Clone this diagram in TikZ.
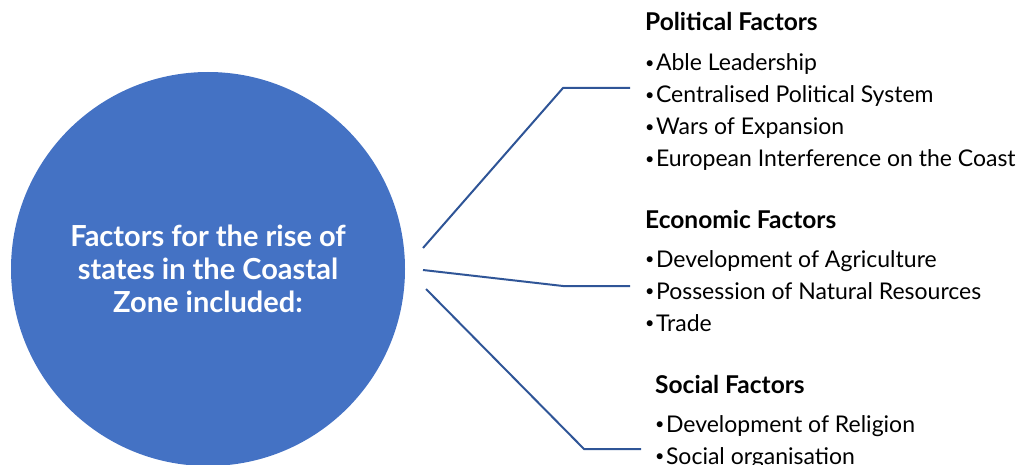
\documentclass[tikz,border=0pt]{standalone}
\usepackage{fontspec}
\setmainfont{Lato}
\definecolor{hubblue}{RGB}{68,114,196}
\definecolor{linkblue}{RGB}{47,85,151}
\newcommand{\dotmark}{\raisebox{2.2pt}{\scalebox{0.7}{\textbullet}}\hspace{1.5pt}}
\begin{document}
\begin{tikzpicture}[x=1pt,y=-1pt,
    hub/.style={circle, fill=hubblue, minimum size=394pt, inner sep=0pt,
        text=white, align=center, font=\bfseries\fontsize{29}{33}\selectfont},
    head/.style={anchor=base west, inner sep=0pt, font=\bfseries\fontsize{24.5}{28}\selectfont},
    item/.style={anchor=base west, inner sep=0pt, font=\fontsize{23}{28}\selectfont},
    link/.style={draw=linkblue, line width=2pt}]
    \useasboundingbox (0,0) rectangle (1022,465);

    % Circle
    \node[hub] (hub) at (208,269) {Factors for the rise of\\states in the Coastal\\Zone included:};

    % Political factors
    \node[head] (pol) at (645,31) {Political Factors};
    \node[item] (pol1) at (645,71) {\dotmark Able Leadership};
    \node[item] (pol2) at (645,103) {\dotmark Centralised Political System};
    \node[item] (pol3) at (645,135) {\dotmark Wars of Expansion};
    \node[item] (pol4) at (645,167) {\dotmark European Interference on the Coast};

    % Economic factors
    \node[head] (eco) at (645,229) {Economic Factors};
    \node[item] (eco1) at (645,267) {\dotmark Development of Agriculture};
    \node[item] (eco2) at (645,299) {\dotmark Possession of Natural Resources};
    \node[item] (eco3) at (645,331) {\dotmark Trade};

    % Social factors
    \node[head] (soc) at (655,393) {Social Factors};
    \node[item] (soc1) at (655,432) {\dotmark Development of Religion};
    \node[item] (soc2) at (655,464) {\dotmark Social organisation};

    % Connectors
    \coordinate (polfrom) at (423,248);
    \coordinate (polbend) at (563,88);
    \coordinate (polto) at (630,88);
    \coordinate (ecofrom) at (423,270);
    \coordinate (ecobend) at (563,286);
    \coordinate (ecoto) at (630,286);
    \coordinate (socfrom) at (426,289);
    \coordinate (socbend) at (584,449);
    \coordinate (socto) at (641,449);
    \draw[link] (polfrom) -- (polbend) -- (polto);
    \draw[link] (ecofrom) -- (ecobend) -- (ecoto);
    \draw[link] (socfrom) -- (socbend) -- (socto);
\end{tikzpicture}
\end{document}
